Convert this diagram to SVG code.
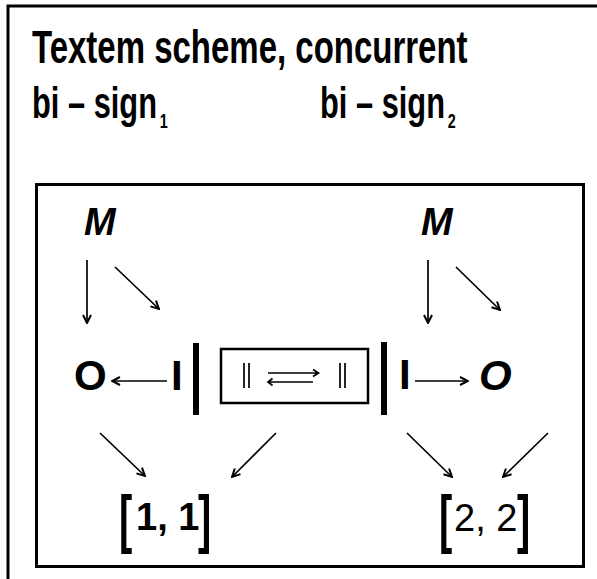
<svg xmlns="http://www.w3.org/2000/svg" width="597" height="579" viewBox="0 0 597 579">
<defs>
<style>
.t{font-family:"Liberation Sans",Arial,sans-serif;font-weight:bold;fill:#000}
.it{font-style:italic}
.reg{font-weight:normal}
.ln{stroke:#000;stroke-width:1.7;fill:none}
.frame{stroke:#000;stroke-width:3;fill:none}
</style>
<marker id="ah" viewBox="0 0 10 10" refX="9" refY="5" markerWidth="10" markerHeight="10" markerUnits="userSpaceOnUse" orient="auto">
<path d="M1,1 L9,5 L1,9" fill="none" stroke="#000" stroke-width="2"/>
</marker>
</defs>
<rect width="597" height="579" fill="#fff"/>
<path class="frame" d="M8,579 V6 H597"/>
<g id="title">
<text class="t" x="0" y="0" font-size="46" transform="translate(32,63) scale(0.717,1)">Textem scheme, concurrent</text>
</g>
<g id="bisign1">
<text class="t" x="0" y="0" font-size="45" transform="translate(32,118) scale(0.685,1)">bi – sign<tspan dx="4" dy="10" font-size="21">1</tspan></text>
</g>
<g id="bisign2">
<text class="t" x="0" y="0" font-size="45" transform="translate(320,118) scale(0.685,1)">bi – sign<tspan dx="4" dy="10" font-size="21">2</tspan></text>
</g>
<rect id="inner-frame" class="frame" x="36.5" y="184.5" width="547" height="382"/>
<g id="M1"><text class="t it" x="84" y="235" font-size="38">M</text></g>
<g id="M2"><text class="t it" x="421" y="235" font-size="38">M</text></g>
<g id="O1"><text class="t" x="74" y="390" font-size="42">O</text></g>
<g id="I1"><text class="t" x="171" y="390" font-size="42">I</text></g>
<g id="I2"><text class="t" x="399" y="389" font-size="42">I</text></g>
<g id="O2"><text class="t it" x="479" y="390" font-size="42">O</text></g>
<g id="bar1"><rect x="193" y="343" width="6" height="72" fill="#000"/></g>
<g id="bar2"><rect x="381" y="342" width="6" height="73" fill="#000"/></g>
<g id="middle-box">
<rect x="221" y="349" width="147" height="54" fill="none" stroke="#000" stroke-width="2.5"/>
<path class="ln" stroke-width="2" d="M244,363 V388 M249,363 V388 M340,363 V388 M345,363 V388"/>
<path class="ln" d="M268,373 H318 M313,369.5 L318.5,373 L313,376.5 M268,382 H313 M272.5,378.5 L268,382 L272.5,385.5" stroke-width="2.2"/>
</g>
<g id="bracket11">
<text class="t" x="0" y="0" font-size="64" transform="translate(119,541) scale(0.62,1)">[</text>
<text class="t" x="136" y="530" font-size="38">1, 1</text>
<text class="t" x="0" y="0" font-size="64" transform="translate(198,541) scale(0.62,1)">]</text>
</g>
<g id="bracket22">
<text class="t" x="0" y="0" font-size="64" transform="translate(439,541) scale(0.62,1)">[</text>
<text class="t reg" x="454" y="531" font-size="38">2, 2</text>
<text class="t" x="0" y="0" font-size="64" transform="translate(517,541) scale(0.62,1)">]</text>
</g>
<g id="connectors">
<line class="ln" x1="87" y1="260" x2="87" y2="323" marker-end="url(#ah)"/>
<line class="ln" x1="115" y1="267" x2="159" y2="309" marker-end="url(#ah)"/>
<line class="ln" x1="428" y1="260" x2="428" y2="323" marker-end="url(#ah)"/>
<line class="ln" x1="456" y1="267" x2="500" y2="310" marker-end="url(#ah)"/>
<line class="ln" x1="167" y1="381" x2="112" y2="381" marker-end="url(#ah)"/>
<line class="ln" x1="415" y1="381" x2="468" y2="381" marker-end="url(#ah)"/>
<line class="ln" x1="100" y1="433" x2="145" y2="476" marker-end="url(#ah)"/>
<line class="ln" x1="276" y1="433" x2="232" y2="477" marker-end="url(#ah)"/>
<line class="ln" x1="407" y1="433" x2="452" y2="477" marker-end="url(#ah)"/>
<line class="ln" x1="548" y1="433" x2="503" y2="477" marker-end="url(#ah)"/>
</g>
</svg>
